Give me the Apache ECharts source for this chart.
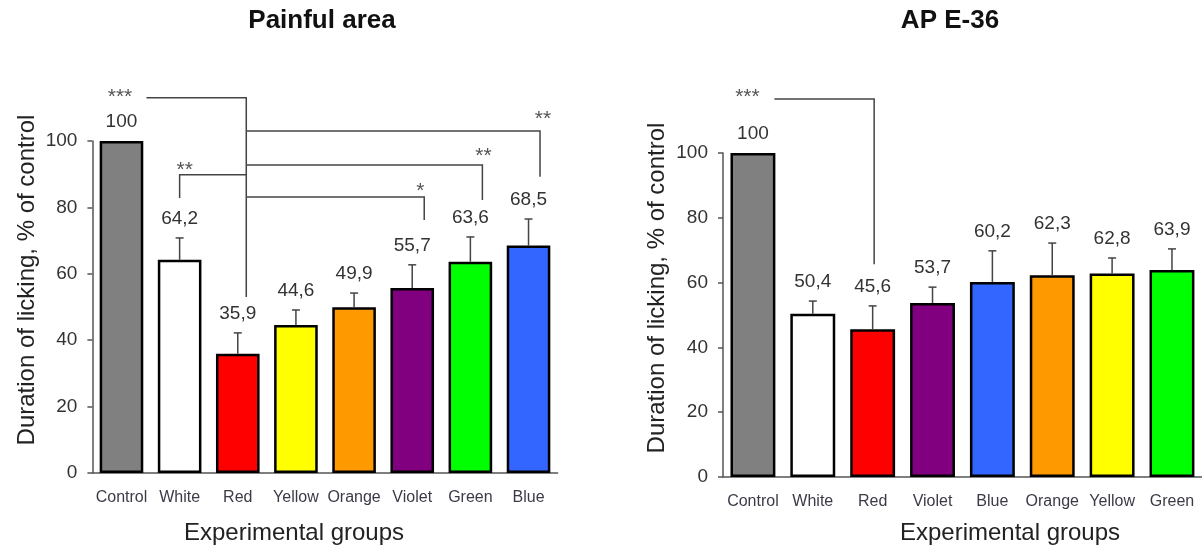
<!DOCTYPE html>
<html>
<head>
<meta charset="utf-8">
<script src="https://cdn.jsdelivr.net/npm/echarts@6/dist/echarts.min.js"></script>
<style>
  html, body { margin: 0; padding: 0; background: #fff; }
  #chart { width: 1202px; height: 549px; }
</style>
</head>
<body>
<div id="chart"></div>
<script>
// ---- data: painful area ----
const painGroups = ['Control', 'White', 'Red', 'Yellow', 'Orange', 'Violet', 'Green', 'Blue'];
const painValues = [100, 64.2, 35.9, 44.6, 49.9, 55.7, 63.6, 68.5];
const painErrors = [0, 6.6, 6.3, 4.5, 4.3, 7.0, 7.5, 8.0];

// ---- data: acupuncture point E-36 ----
const apGroups = ['Control', 'White', 'Red', 'Violet', 'Blue', 'Orange', 'Yellow', 'Green'];
const apValues = [100, 50.4, 45.6, 53.7, 60.2, 62.3, 62.8, 63.9];
const apErrors = [0, 3.9, 7.2, 4.9, 9.6, 9.9, 4.8, 6.5];

const yTicks = [0, 20, 40, 60, 80, 100];

// significance comparisons (levels in % of control)
const painBrackets = [
  { from: 'Control', to: 'Red', level: 113, fromTip: null, toTip: 53, stars: '***', starAt: 'Control', starLevel: 114.8 },
  { from: 'White', to: 'Red', level: 89.8, fromTip: 82.8, toTip: null, stars: '**', starAt: 'White', starLevel: 92.8 },
  { from: 'Red', to: 'Blue', level: 103, fromTip: null, toTip: 89.2, stars: '**', starAt: 'Blue', starLevel: 108 },
  { from: 'Red', to: 'Green', level: 92.8, fromTip: null, toTip: 82.2, stars: '**', starAt: 'Green', starLevel: 97 },
  { from: 'Red', to: 'Violet', level: 83.1, fromTip: null, toTip: 76.2, stars: '*', starAt: 'Violet', starLevel: 86.4 }
];
const apBrackets = [
  { from: 'Control', to: 'Red', level: 116.7, fromTip: null, toTip: 65.7, stars: '***', starAt: 'Control', starLevel: 118.8 }
];

// ---- styling ----
const groupColors = {
  Control: '#808080', White: '#ffffff', Red: '#ff0000', Yellow: '#ffff00',
  Orange: '#ff9900', Violet: '#800080', Green: '#00ff00', Blue: '#3366ff'
};
// horizontal nudges (px) of bracket ends and star marks from the bar centre
const painLineNudge = { Control: 25, White: 0, Red: 8.5, Violet: 12, Green: 12, Blue: 11.5 };
const painStarNudge = { Control: -1.5, White: 5, Blue: 14.5, Green: 13, Violet: 8 };
const apLineNudge = { Control: 21.5, Red: 1.5 };
const apStarNudge = { Control: -5.5 };

const SANS = "'Liberation Sans', Arial, sans-serif";
const INK = '#333';
const AXIS = '#555';

function makeAxes(groups, gridIndex) {
  return {
    x: {
      type: 'category', gridIndex, data: groups,
      axisLine: { lineStyle: { color: AXIS, width: 1.5 } },
      axisTick: { show: false },
      axisLabel: { interval: 0, fontFamily: SANS, fontSize: 16, color: '#3b3b48', margin: 17 }
    },
    y: {
      type: 'value', gridIndex, min: yTicks[0], max: yTicks[yTicks.length - 1],
      interval: yTicks[1] - yTicks[0],
      axisLine: { show: true, lineStyle: { color: AXIS, width: 1.5 } },
      axisTick: { show: true, length: 5, lineStyle: { color: AXIS, width: 1.5 } },
      splitLine: { show: false },
      axisLabel: { fontFamily: SANS, fontSize: 19, color: INK, margin: 15 }
    }
  };
}

function barSeries(groups, values, idx) {
  return {
    type: 'bar', xAxisIndex: idx, yAxisIndex: idx, barWidth: '75%', z: 2,
    data: values.map((v, i) => ({ value: v, itemStyle: { color: groupColors[groups[i]] } })),
    itemStyle: { borderColor: '#000', borderWidth: 2.5 }
  };
}

function errorSeries(values, errors, idx) {
  return {
    type: 'custom', xAxisIndex: idx, yAxisIndex: idx, z: 3, clip: false,
    data: values.map((v, i) => [i, v, errors[i]]),
    renderItem(params, api) {
      const i = api.value(0), v = api.value(1), e = api.value(2);
      const base = api.coord([i, v]);
      const top = api.coord([i, v + e]);
      const children = [];
      if (e > 0) {
        children.push({ type: 'line', shape: { x1: base[0], y1: base[1], x2: top[0], y2: top[1] },
          style: { stroke: '#444', lineWidth: 1.5 } });
        children.push({ type: 'line', shape: { x1: top[0] - 4, y1: top[1], x2: top[0] + 4, y2: top[1] },
          style: { stroke: '#444', lineWidth: 1.5 } });
      }
      const label = String(v).replace('.', ',');
      children.push({ type: 'text', x: top[0], y: top[1] - 19,
        style: { text: label, fontFamily: SANS, fontSize: 19, fill: INK, align: 'center', verticalAlign: 'middle' } });
      return { type: 'group', children };
    }
  };
}

function bracketSeries(groups, brackets, lineNudge, starNudge, idx) {
  return {
    type: 'custom', xAxisIndex: idx, yAxisIndex: idx, z: 4, clip: false,
    data: brackets.map((b, k) => [groups.indexOf(b.from), b.level, k]),
    renderItem(params, api) {
      const b = brackets[api.value(2)];
      const fi = groups.indexOf(b.from), ti = groups.indexOf(b.to), si = groups.indexOf(b.starAt);
      const xa = api.coord([fi, b.level])[0] + (lineNudge[b.from] || 0);
      const xb = api.coord([ti, b.level])[0] + (lineNudge[b.to] || 0);
      const yl = api.coord([fi, b.level])[1];
      const pts = [];
      if (b.fromTip != null) pts.push([xa, api.coord([fi, b.fromTip])[1]]);
      pts.push([xa, yl], [xb, yl]);
      if (b.toTip != null) pts.push([xb, api.coord([ti, b.toTip])[1]]);
      const sp = api.coord([si, b.starLevel]);
      return { type: 'group', children: [
        { type: 'polyline', shape: { points: pts }, style: { stroke: '#444', lineWidth: 1.5, fill: null } },
        { type: 'text', x: sp[0] + (starNudge[b.starAt] || 0), y: sp[1] + 5,
          style: { text: b.stars, fontFamily: SANS, fontSize: 21, fill: '#555', align: 'center', verticalAlign: 'middle' } }
      ] };
    }
  };
}

const painAxes = makeAxes(painGroups, 0);
const apAxes = makeAxes(apGroups, 1);

const yName = 'Duration of licking, % of control';
const xName = 'Experimental groups';

const option = {
  animation: false,
  backgroundColor: '#fff',
  title: [
    { text: 'Painful area', left: 322, top: 8, textAlign: 'center', padding: 0,
      textStyle: { fontFamily: SANS, fontSize: 26, fontWeight: 'bold', color: '#111' } },
    { text: 'AP E-36', left: 950, top: 8, textAlign: 'center', padding: 0,
      textStyle: { fontFamily: SANS, fontSize: 26, fontWeight: 'bold', color: '#111' } }
  ],
  grid: [
    { left: 92.4, top: 141, width: 465.2, height: 332 },
    { left: 723, top: 153, width: 478.9, height: 324 }
  ],
  xAxis: [painAxes.x, apAxes.x],
  yAxis: [painAxes.y, apAxes.y],
  graphic: [
    { type: 'text', x: 27, y: 280, rotation: Math.PI / 2,
      style: { text: yName, fontFamily: SANS, fontSize: 24, fill: '#222', align: 'center', verticalAlign: 'middle' } },
    { type: 'text', x: 657, y: 288, rotation: Math.PI / 2,
      style: { text: yName, fontFamily: SANS, fontSize: 24, fill: '#222', align: 'center', verticalAlign: 'middle' } },
    { type: 'text', x: 294, y: 533,
      style: { text: xName, fontFamily: SANS, fontSize: 24, fill: '#222', align: 'center', verticalAlign: 'middle' } },
    { type: 'text', x: 1010, y: 533,
      style: { text: xName, fontFamily: SANS, fontSize: 24, fill: '#222', align: 'center', verticalAlign: 'middle' } }
  ],
  series: [
    barSeries(painGroups, painValues, 0),
    errorSeries(painValues, painErrors, 0),
    bracketSeries(painGroups, painBrackets, painLineNudge, painStarNudge, 0),
    barSeries(apGroups, apValues, 1),
    errorSeries(apValues, apErrors, 1),
    bracketSeries(apGroups, apBrackets, apLineNudge, apStarNudge, 1)
  ]
};

const chart = echarts.init(document.getElementById('chart'), null, { renderer: 'canvas' });
chart.setOption(option);
</script>
</body>
</html>
